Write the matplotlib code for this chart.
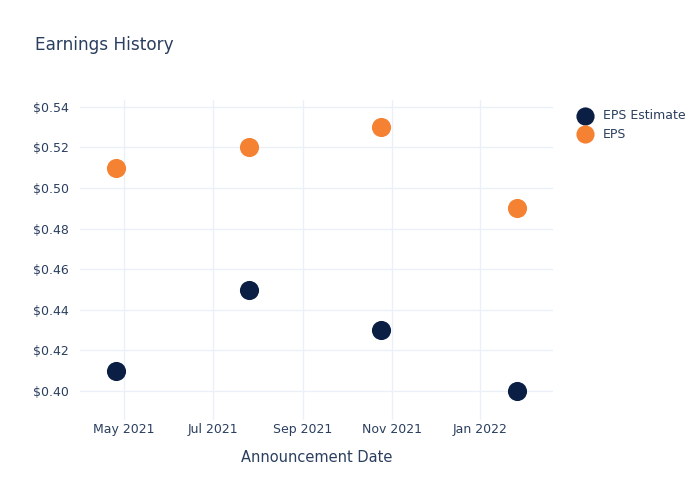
import numpy as np
import pandas as pd
import matplotlib.pyplot as plt
import matplotlib.dates as mdates
from matplotlib.ticker import FuncFormatter

dates = pd.to_datetime(["2021-04-26", "2021-07-26", "2021-10-25", "2022-01-26"])
eps_estimate = [0.41, 0.45, 0.43, 0.40]
eps_actual = [0.51, 0.52, 0.53, 0.49]

text_col = "#2a3f5f"
grid_col = "#ebf0f8"

fig = plt.figure(figsize=(7, 5), dpi=100)
ax = fig.add_axes([0.1143, 0.16, 0.676, 0.64])

ax.scatter(dates, eps_estimate, s=190, color="#0b1f44", label="EPS Estimate", zorder=3, linewidths=0)
ax.scatter(dates, eps_actual, s=190, color="#f58233", label="EPS", zorder=3, linewidths=0)

ax.set_xlim(pd.Timestamp("2021-04-01"), pd.Timestamp("2022-02-20"))
ax.set_ylim(0.3857, 0.5434)
ax.set_yticks(np.arange(0.40, 0.541, 0.02))
ax.yaxis.set_major_formatter(FuncFormatter(lambda v, p: f"${v:.2f}"))
ax.xaxis.set_major_locator(mdates.MonthLocator(bymonth=[1, 3, 5, 7, 9, 11]))
ax.xaxis.set_major_formatter(mdates.DateFormatter("%b %Y"))

ax.grid(True, color=grid_col, linewidth=1)
ax.set_axisbelow(True)
for s in ax.spines.values():
    s.set_visible(False)
ax.tick_params(length=0, colors=text_col, labelsize=9)
ax.tick_params(axis="x", pad=2)
ax.tick_params(axis="y", pad=8)

ax.set_xlabel("Announcement Date", color=text_col, fontsize=10.5, labelpad=10)
fig.text(0.05, 0.911, "Earnings History", color=text_col, fontsize=12.2, va="center")

ax.legend(loc="upper left", bbox_to_anchor=(0.81, 0.792), bbox_transform=fig.transFigure,
          frameon=False, fontsize=9, labelcolor=text_col, handletextpad=0.5,
          labelspacing=0.45, borderaxespad=0, markerscale=0.95)

fig.savefig("out.png", dpi=100)
